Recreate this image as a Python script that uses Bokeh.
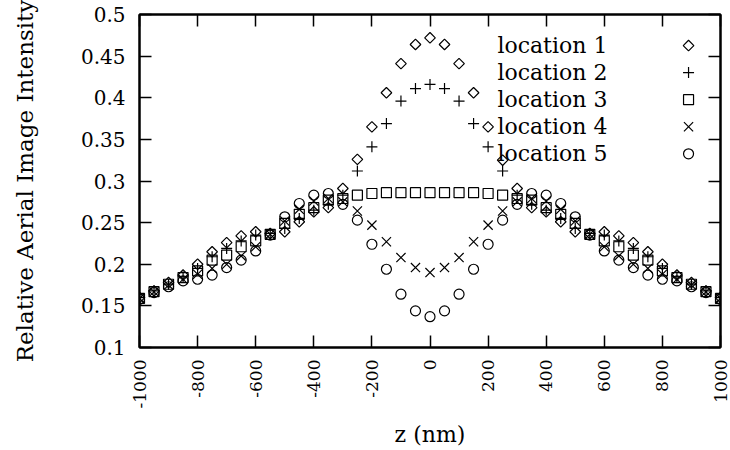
import math
from bokeh.plotting import figure
from bokeh.models import Range1d, FixedTicker, LinearAxis, CustomJSTickFormatter
from bokeh.core.properties import value
from bokeh.embed import file_html
from bokeh.resources import INLINE

# ---------------- data ----------------
z_nm = [-1000, -950, -900, -850, -800, -750, -700, -650, -600, -550, -500,
        -450, -400, -350, -300, -250, -200, -150, -100, -50, 0,
        50, 100, 150, 200, 250, 300, 350, 400, 450, 500,
        550, 600, 650, 700, 750, 800, 850, 900, 950, 1000]

location_1 = [0.160, 0.168, 0.178, 0.187, 0.200, 0.215, 0.226, 0.234, 0.239, 0.237, 0.239,
              0.251, 0.263, 0.268, 0.291, 0.326, 0.365, 0.406, 0.441, 0.464, 0.472,
              0.464, 0.441, 0.406, 0.365, 0.325, 0.291, 0.268, 0.263, 0.251, 0.239,
              0.237, 0.239, 0.234, 0.226, 0.215, 0.200, 0.187, 0.178, 0.168, 0.160]

location_2 = [0.160, 0.168, 0.176, 0.185, 0.195, 0.209, 0.219, 0.228, 0.235, 0.237, 0.243,
              0.255, 0.265, 0.272, 0.283, 0.312, 0.341, 0.369, 0.396, 0.411, 0.416,
              0.411, 0.396, 0.369, 0.341, 0.312, 0.283, 0.272, 0.265, 0.255, 0.243,
              0.237, 0.235, 0.228, 0.219, 0.209, 0.195, 0.185, 0.176, 0.168, 0.160]

location_3 = [0.159, 0.167, 0.176, 0.184, 0.192, 0.205, 0.211, 0.221, 0.228, 0.236, 0.249,
              0.260, 0.268, 0.277, 0.279, 0.283, 0.285, 0.286, 0.286, 0.286, 0.286,
              0.286, 0.286, 0.286, 0.285, 0.283, 0.279, 0.277, 0.268, 0.260, 0.249,
              0.236, 0.228, 0.221, 0.211, 0.205, 0.192, 0.184, 0.176, 0.167, 0.159]

location_4 = [0.159, 0.167, 0.175, 0.182, 0.188, 0.195, 0.200, 0.210, 0.221, 0.236, 0.252,
              0.266, 0.276, 0.279, 0.275, 0.264, 0.247, 0.227, 0.208, 0.196, 0.190,
              0.196, 0.208, 0.227, 0.247, 0.264, 0.275, 0.279, 0.276, 0.266, 0.252,
              0.236, 0.221, 0.210, 0.200, 0.195, 0.188, 0.182, 0.175, 0.167, 0.159]

location_5 = [0.158, 0.166, 0.173, 0.180, 0.182, 0.187, 0.196, 0.205, 0.216, 0.235, 0.257,
              0.273, 0.283, 0.285, 0.272, 0.253, 0.224, 0.194, 0.164, 0.144, 0.137,
              0.144, 0.164, 0.194, 0.224, 0.253, 0.272, 0.285, 0.283, 0.273, 0.257,
              0.235, 0.216, 0.205, 0.196, 0.187, 0.182, 0.180, 0.173, 0.166, 0.158]

series_names = ["location 1", "location 2", "location 3", "location 4", "location 5"]

x_ticks = [-1000, -800, -600, -400, -200, 0, 200, 400, 600, 800, 1000]
x_tick_labels = ["-1000", "-800", "-600", "-400", "-200", "0", "200", "400", "600", "800", "1000"]
y_ticks = [0.1, 0.15, 0.2, 0.25, 0.3, 0.35, 0.4, 0.45, 0.5]
y_tick_labels = ["0.1", "0.15", "0.2", "0.25", "0.3", "0.35", "0.4", "0.45", "0.5"]

x_label = "z (nm)"
y_label = "Relative Aerial Image Intensity"

# ---------------- style ----------------
FONT = "DejaVu Serif"
LW = 1.2
marker_styles = [
    dict(marker="square", size=7.5, angle=math.pi / 4),
    dict(marker="cross", size=11, angle=0.0),
    dict(marker="square", size=10, angle=0.0),
    dict(marker="x", size=13, angle=0.0),
    dict(marker="circle", size=10, angle=0.0),
]

p = figure(width=730, height=450, output_backend="svg", toolbar_location=None,
           x_range=Range1d(-1000, 1000), y_range=Range1d(0.1, 0.5),
           min_border_left=139, min_border_right=10,
           min_border_top=14, min_border_bottom=103,
           x_axis_label=x_label, y_axis_label=y_label)
p.grid.visible = False
p.outline_line_color = "black"
p.outline_line_width = 2
p.background_fill_color = "white"
p.border_fill_color = "white"

xa = p.xaxis[0]
xa.ticker = FixedTicker(ticks=x_ticks)
xa.major_label_overrides = {t: l for t, l in zip(x_ticks, x_tick_labels)}
xa.major_label_orientation = math.pi / 2
xa.major_label_text_font = FONT
xa.major_label_text_font_size = "17px"
xa.major_label_standoff = 12
xa.axis_label_text_font = FONT
xa.axis_label_text_font_size = "22px"
xa.axis_label_text_font_style = "normal"
xa.axis_label_standoff = 10

ya = p.yaxis[0]
ya.ticker = FixedTicker(ticks=y_ticks)
ya.major_label_overrides = {t: l for t, l in zip(y_ticks, y_tick_labels)}
ya.major_label_text_font = FONT
ya.major_label_text_font_size = "20px"
ya.major_label_standoff = 14
ya.axis_label_text_font = FONT
ya.axis_label_text_font_size = "23px"
ya.axis_label_text_font_style = "normal"
ya.axis_label_standoff = 40

for ax in (xa, ya):
    ax.major_tick_in = 12
    ax.major_tick_out = 0
    ax.minor_tick_in = 0
    ax.minor_tick_out = 0
    ax.major_tick_line_width = 1.5
    ax.axis_line_width = 2
    ax.major_label_text_color = "black"
    ax.axis_label_text_color = "black"

blank = CustomJSTickFormatter(code="return ''")
top = LinearAxis(ticker=FixedTicker(ticks=x_ticks), formatter=blank,
                 major_tick_in=12, major_tick_out=0, minor_tick_in=0, minor_tick_out=0,
                 major_tick_line_width=1.5, axis_line_width=2, major_label_standoff=0)
right = LinearAxis(ticker=FixedTicker(ticks=y_ticks), formatter=blank,
                   major_tick_in=12, major_tick_out=0, minor_tick_in=0, minor_tick_out=0,
                   major_tick_line_width=1.5, axis_line_width=2, major_label_standoff=0)
p.add_layout(top, "above")
p.add_layout(right, "right")

all_series = [location_1, location_2, location_3, location_4, location_5]
for vals, st in zip(all_series, marker_styles):
    p.scatter(z_nm, vals, marker=st["marker"], size=st["size"], angle=st["angle"],
              fill_color=None, line_color="black", line_width=LW)

# legend (gnuplot style: text left, symbol right)
legend_text_x = 232
legend_mark_x = 890
legend_top_y = 0.4627
legend_dy = 0.0325
for i, (name, st) in enumerate(zip(series_names, marker_styles)):
    yy = legend_top_y - i * legend_dy
    p.text(x=[legend_text_x], y=[yy], text=[name], text_font=value(FONT),
           text_font_size="22px", text_align="left", text_baseline="middle",
           text_color="black")
    p.scatter([legend_mark_x], [yy], marker=st["marker"], size=st["size"], angle=st["angle"],
              fill_color=None, line_color="black", line_width=LW)

open("out.html", "w").write(file_html(p, INLINE))
